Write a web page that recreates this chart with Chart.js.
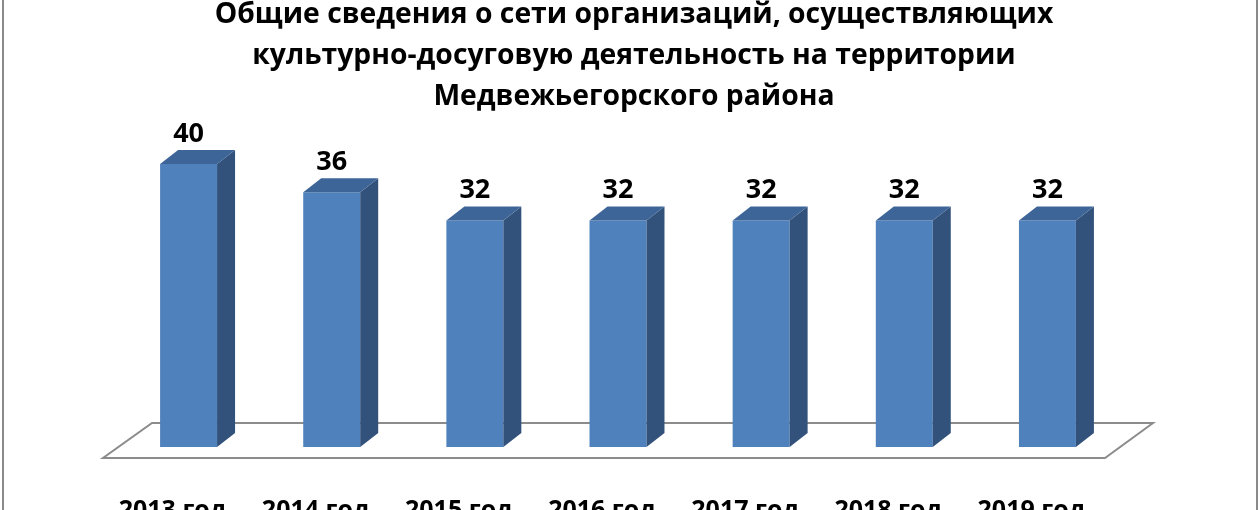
<!DOCTYPE html>
<html>
<head>
<meta charset="utf-8">
<script src="https://cdn.jsdelivr.net/npm/chart.js@4.4.1/dist/chart.umd.min.js"></script>
<style>
html,body{margin:0;padding:0;background:#fff;}
#wrap{width:1260px;height:510px;position:relative;}
</style>
</head>
<body>
<div id="wrap"><canvas id="c" width="1260" height="510"></canvas></div>
<script>
const categories = ['2013 год','2014 год','2015 год','2016 год','2017 год','2018 год','2019 год'];
const values = [40, 36, 32, 32, 32, 32, 32];
const titleLines = [
  'Общие сведения о сети организаций, осуществляющих',
  'культурно-досуговую деятельность на территории',
  'Медвежьегорского района'
];

const FONT = '"Open Sans", Lato, "DejaVu Sans", sans-serif';
const DX = 18, DY = -14;

const bars3d = {
  id: 'bars3d',
  beforeDatasetsDraw(chart) {
    const ctx = chart.ctx, a = chart.chartArea;
    ctx.save();
    ctx.strokeStyle = '#8a8a8a';
    ctx.lineWidth = 2;
    ctx.beginPath();
    ctx.moveTo(3, 0); ctx.lineTo(3, 510);
    ctx.moveTo(1257, 0); ctx.lineTo(1257, 510);
    ctx.stroke();
    ctx.strokeStyle = '#8c8c8c';
    ctx.lineWidth = 2;
    ctx.beginPath();
    ctx.moveTo(a.left - 14, a.bottom + 11);
    ctx.lineTo(a.right - 14, a.bottom + 11);
    ctx.lineTo(a.right + 34, a.bottom - 24);
    ctx.lineTo(a.left + 35, a.bottom - 24);
    ctx.closePath();
    ctx.fillStyle = '#ffffff';
    ctx.fill();
    ctx.stroke();
    ctx.restore();
  },
  afterDatasetsDraw(chart) {
    const ctx = chart.ctx;
    const meta = chart.getDatasetMeta(0);
    const xs = chart.scales.x;
    ctx.save();
    meta.data.forEach((bar, i) => {
      const p = bar.getProps(['x','y','base','width'], true);
      const l = p.x - p.width/2, r = p.x + p.width/2, t = p.y, b = p.base;
      ctx.fillStyle = '#33527b';
      ctx.beginPath();
      ctx.moveTo(r, t); ctx.lineTo(r+DX, t+DY); ctx.lineTo(r+DX, b+DY); ctx.lineTo(r, b);
      ctx.closePath(); ctx.fill();
      ctx.fillStyle = '#3e6598';
      ctx.beginPath();
      ctx.moveTo(l, t); ctx.lineTo(l+DX, t+DY); ctx.lineTo(r+DX, t+DY); ctx.lineTo(r, t);
      ctx.closePath(); ctx.fill();
      ctx.fillStyle = '#000';
      ctx.font = 'bold 27px ' + FONT;
      ctx.textAlign = 'center';
      ctx.textBaseline = 'middle';
      ctx.fillText(String(values[i]), p.x, t - 30);
      ctx.font = 'bold 25px ' + FONT;
      ctx.fillText(categories[i], xs.getPixelForValue(i) - 16, b + 64);
    });
    ctx.restore();
  }
};

new Chart(document.getElementById('c'), {
  type: 'bar',
  data: {
    labels: categories,
    datasets: [{
      data: values,
      backgroundColor: '#4f81bd',
      borderWidth: 0,
      categoryPercentage: 1.0,
      barPercentage: 0.398
    }]
  },
  options: {
    responsive: false,
    animation: false,
    devicePixelRatio: 1,
    layout: { padding: { top: -6, bottom: 63, left: 117, right: 109 } },
    scales: {
      x: { display: false },
      y: {
        display: true, position: 'right', min: 0, max: 40,
        ticks: { display: false },
        grid: { display: false, drawTicks: false },
        border: { display: false },
        afterFit: (s) => { s.width = 32; }
      }
    },
    plugins: {
      legend: { display: false },
      tooltip: { enabled: false },
      title: {
        display: true,
        text: titleLines,
        color: '#000',
        font: { family: FONT, size: 28.3, weight: 'bold', lineHeight: '41px' },
        padding: { top: 0, bottom: 47 }
      }
    }
  },
  plugins: [bars3d]
});
</script>
</body>
</html>
